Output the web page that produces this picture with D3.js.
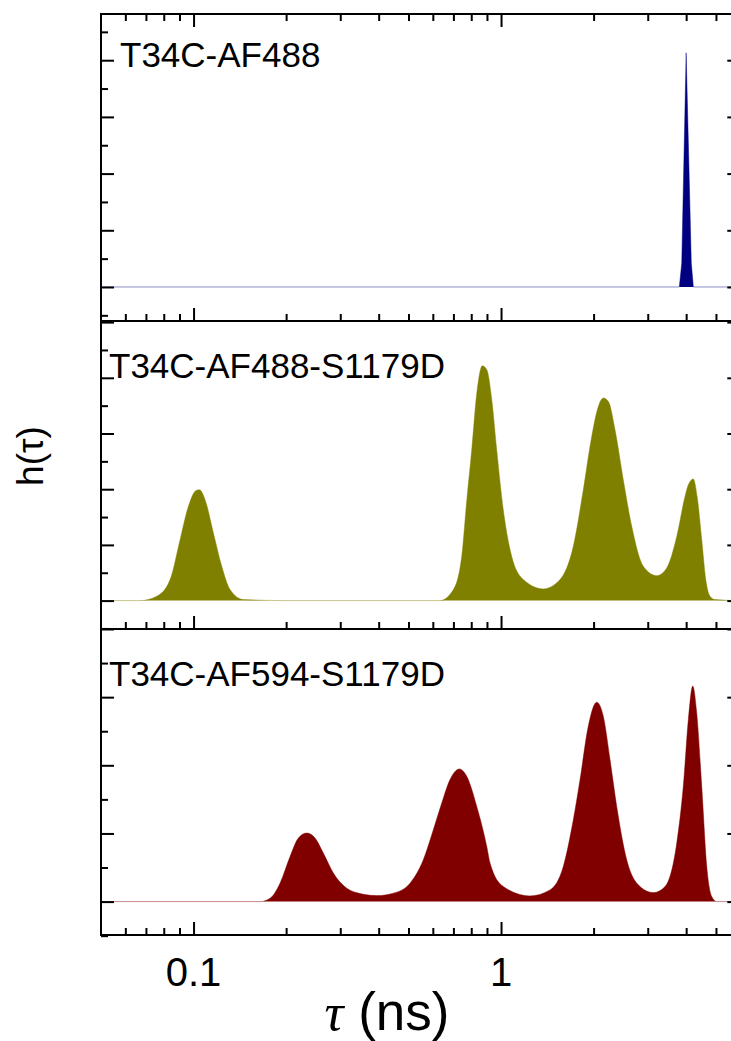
<!DOCTYPE html>
<html>
<head>
<meta charset="utf-8">
<script src="https://cdn.jsdelivr.net/npm/d3@7/dist/d3.min.js"></script>
<style>
  html, body { margin: 0; padding: 0; background: #fff; }
  svg { display: block; }
</style>
</head>
<body>
<svg id="chart" width="731" height="1041"></svg>
<script>
// ---------------- data ----------------
const panelLabels = ["T34C-AF488", "T34C-AF488-S1179D", "T34C-AF594-S1179D"];
const panelColors = ["#000080", "#808000", "#800000"];

// T34C-AF488 (single narrow lifetime)
const tauA = [0.05, 3.80, 3.87, 4.00, 4.157, 4.222, 6.0];
const hA   = [0,    0,    0.42, 4.13, 0.42,  0,     0];

// T34C-AF488-S1179D
const tauB = [0.05, 0.0670, 0.0759, 0.0839, 0.0904, 0.0962, 0.1019, 0.1044, 0.1090, 0.1160, 0.1235, 0.1314, 0.1452, 0.2000, 0.633,
              0.700, 0.745, 0.774, 0.803, 0.834, 0.869, 0.899, 0.933, 0.968, 1.017, 1.083, 1.182, 1.373,
              1.555, 1.718, 1.852, 1.972, 2.072, 2.151, 2.234, 2.348, 2.498, 2.661, 2.902, 3.209,
              3.458, 3.728, 3.966, 4.066, 4.221, 4.349, 4.495, 4.632, 4.783, 4.965, 6.0];
const hB   = [0,    0,      0.077,  0.377,  1.094,  1.691,  1.978,  1.991,  1.812,  1.214,  0.615,  0.197,  0.018,  0,      0,
              0.197, 0.795, 1.812, 2.709, 3.726, 4.215, 4.143, 3.605, 2.709, 1.632, 0.795, 0.377, 0.210,
              0.377, 0.974, 1.991, 2.947, 3.485, 3.636, 3.575, 3.067, 2.170, 1.333, 0.615, 0.448,
              0.587, 1.153, 1.871, 2.081, 2.183, 1.842, 1.094, 0.377, 0.077, 0.018, 0];

// T34C-AF594-S1179D
const tauC = [0.05, 0.1645, 0.1774, 0.1911, 0.2060, 0.2192, 0.2334, 0.2484, 0.2643, 0.2849, 0.3149, 0.3566, 0.3943,
              0.4465, 0.5060, 0.5588, 0.6023, 0.6415, 0.6824, 0.7318, 0.7736, 0.8337, 0.8986, 0.9209, 1.0174,
              1.242, 1.443, 1.594, 1.718, 1.807, 1.922, 2.047, 2.151, 2.262, 2.378, 2.563, 2.831, 3.129,
              3.415, 3.728, 3.915, 4.066, 4.202, 4.329, 4.495, 4.667, 4.844, 5.029, 6.0];
const hC   = [0,    0,      0.05,   0.271,  0.662,  0.932,  1.006,  0.932,  0.712,  0.418,  0.197,  0.109,  0.088,
              0.124,  0.271,  0.613,  1.054,  1.447,  1.790,  1.947,  1.838,  1.397,  0.809,  0.565,  0.221,
              0.084, 0.172, 0.515, 1.201, 1.790, 2.574, 2.926, 2.721, 2.084, 1.397, 0.613, 0.221, 0.132,
              0.221, 0.859, 1.691, 2.672, 3.162, 2.771, 1.691, 0.515, 0.074, 0,     0];

const xDomain = [0.05, 6];
const xMajorTicks = [0.1, 1];
const xTickLabels = ["0.1", "1"];
const xMinorTicks = [0.06, 0.07, 0.08, 0.09, 0.2, 0.3, 0.4, 0.5, 0.6, 0.7, 0.8, 0.9, 2, 3, 4, 5];

const yDomains = [[-0.6, 4.815], [-0.51, 5.02], [-0.49, 4.0]];
const yMajorTicks = [[0, 1, 2, 3, 4], [0, 1, 2, 3, 4, 5], [0, 1, 2, 3, 4]];
const yMinorTicks = [[-0.5, 0.5, 1.5, 2.5, 3.5, 4.5], [-0.5, 0.5, 1.5, 2.5, 3.5, 4.5], [-0.5, 0.5, 1.5, 2.5, 3.5]];

const seriesTau = [tauA, tauB, tauC];
const seriesH = [hA, hB, hC];
const seriesCurves = [d3.curveLinear, d3.curveMonotoneX, d3.curveMonotoneX];

// ---------------- layout ----------------
const svg = d3.select("#chart");
svg.append("rect").attr("width", 731).attr("height", 1041).attr("fill", "#fff");

const left = 101, right = 740.3;
const panelEdges = [14, 321, 629, 935];
const majorLen = 13, minorLen = 7;
const font = "'Liberation Sans', Arial, Helvetica, sans-serif";

const x = d3.scaleLog().domain(xDomain).range([left, right]);

panelLabels.forEach((label, i) => {
  const top = panelEdges[i], bottom = panelEdges[i + 1];
  const y = d3.scaleLinear().domain(yDomains[i]).range([bottom, top]);
  const g = svg.append("g");

  const pts = seriesTau[i].map((t, k) => [t, seriesH[i][k]]);

  g.append("path")
    .datum(pts)
    .attr("fill", panelColors[i])
    .attr("d", d3.area().x(d => x(d[0])).y0(y(0)).y1(d => y(d[1])).curve(seriesCurves[i]));
  g.append("path")
    .datum(pts)
    .attr("fill", "none")
    .attr("stroke", panelColors[i])
    .attr("stroke-opacity", 0.45)
    .attr("stroke-width", 1)
    .attr("d", d3.line().x(d => x(d[0])).y(d => y(d[1])).curve(seriesCurves[i]));

  const yl = d3.axisRight(y).tickValues(yMajorTicks[i]).tickSize(majorLen).tickFormat("");
  const ylm = d3.axisRight(y).tickValues(yMinorTicks[i]).tickSize(minorLen).tickFormat("");
  const yr = d3.axisLeft(y).tickValues(yMajorTicks[i]).tickSize(majorLen).tickFormat("");
  const yrm = d3.axisLeft(y).tickValues(yMinorTicks[i]).tickSize(minorLen).tickFormat("");
  [[yl, left], [ylm, left], [yr, right], [yrm, right]].forEach(([ax, xpos]) => {
    const a = g.append("g").attr("transform", `translate(${xpos},0)`).call(ax);
    a.select(".domain").remove();
    a.selectAll("line").attr("stroke", "#000").attr("stroke-width", 2);
  });

  const xb = d3.axisTop(x).tickValues(xMajorTicks).tickSize(majorLen).tickFormat("");
  const xbm = d3.axisTop(x).tickValues(xMinorTicks).tickSize(minorLen).tickFormat("");
  [xb, xbm].forEach(ax => {
    const a = g.append("g").attr("transform", `translate(0,${bottom})`).call(ax);
    a.select(".domain").remove();
    a.selectAll("line").attr("stroke", "#000").attr("stroke-width", 2);
  });
  if (i === 0) {
    const xt = d3.axisBottom(x).tickValues(xMajorTicks).tickSize(majorLen).tickFormat("");
    const xtm = d3.axisBottom(x).tickValues(xMinorTicks).tickSize(minorLen).tickFormat("");
    [xt, xtm].forEach(ax => {
      const a = g.append("g").attr("transform", `translate(0,${top})`).call(ax);
      a.select(".domain").remove();
      a.selectAll("line").attr("stroke", "#000").attr("stroke-width", 2);
    });
  }

  g.append("rect")
    .attr("x", left).attr("y", top)
    .attr("width", right - left).attr("height", bottom - top)
    .attr("fill", "none").attr("stroke", "#000").attr("stroke-width", 2);

  g.append("text")
    .attr("x", i === 0 ? 120 : 109)
    .attr("y", top + (i === 0 ? 53 : 57))
    .attr("font-family", font)
    .attr("font-size", 35)
    .attr("fill", "#000")
    .text(label);
});

// x tick labels
const xLab = svg.append("g");
xMajorTicks.forEach((t, k) => {
  xLab.append("text")
    .attr("x", x(t)).attr("y", 986)
    .attr("text-anchor", "middle")
    .attr("font-family", font).attr("font-size", 40)
    .text(xTickLabels[k]);
});

// x axis title
const xt = svg.append("text")
  .attr("x", 387).attr("y", 1030)
  .attr("text-anchor", "middle")
  .attr("font-family", font).attr("font-size", 53);
xt.append("tspan").attr("font-family", "'Liberation Serif', 'DejaVu Serif', serif").attr("font-style", "italic").text("τ");
xt.append("tspan").text(" (ns)");

// y axis title
svg.append("text")
  .attr("transform", "translate(43,456) rotate(-90)")
  .attr("text-anchor", "middle")
  .attr("font-family", font).attr("font-size", 37)
  .text("h(τ)");
</script>
</body>
</html>
